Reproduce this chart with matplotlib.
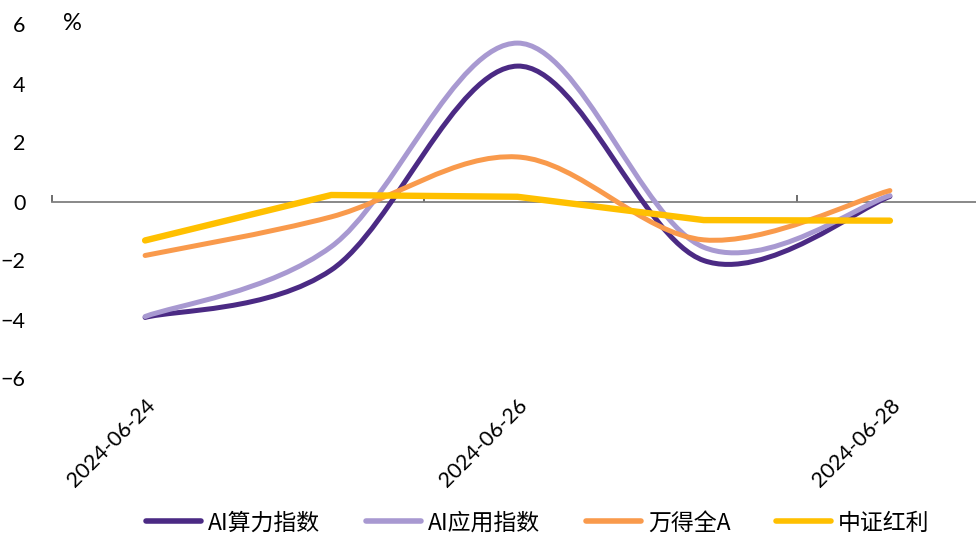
import numpy as np
import matplotlib
matplotlib.use("Agg")
import matplotlib.pyplot as plt
from matplotlib.path import Path
from matplotlib.patches import PathPatch
from matplotlib.lines import Line2D

plt.rcParams['font.family'] = ['Lato', 'Noto Sans CJK SC', 'DejaVu Sans']

# ---- data ----
days = [24, 25, 26, 27, 28]
date_labels = ['2024-06-24', '2024-06-26', '2024-06-28']
date_ticks = [24, 26, 28]
ai_compute = [-3.93, -2.32, 4.59, -2.0, 0.17]      # AI算力指数
ai_app = [-3.90, -1.53, 5.37, -1.55, 0.20]         # AI应用指数
wind_all_a = [-1.83, -0.52, 1.51, -1.30, 0.37]     # 万得全A
csi_dividend = [-1.32, 0.22, 0.16, -0.63, -0.65]   # 中证红利

names = ['AI算力指数', 'AI应用指数', '万得全A', '中证红利']
colors = ['#4B2A84', '#A899D1', '#F99A4C', '#FFC000']
widths = [3.6, 3.6, 3.6, 4.6]
smooth = [True, True, True, False]


def smooth_path(x, y):
    """Catmull-Rom curve through the points, expressed as cubic Beziers."""
    pts = np.column_stack([x, y]).astype(float)
    n = len(pts)
    verts = [pts[0]]
    codes = [Path.MOVETO]
    for i in range(n - 1):
        p0 = pts[i - 1] if i > 0 else pts[i]
        p1 = pts[i]
        p2 = pts[i + 1]
        p3 = pts[i + 2] if i + 2 < n else pts[i + 1]
        c1 = p1 + (p2 - p0) / 6.0
        c2 = p2 - (p3 - p1) / 6.0
        verts += [c1, c2, p2]
        codes += [Path.CURVE4] * 3
    return Path(verts, codes)


fig = plt.figure(figsize=(9.76, 5.35), dpi=100)
W, H = 976, 535
left_px, right_px = 52, 983
top_px, bot_px = 24.5, 378.5
ax = fig.add_axes([left_px / W, 1 - bot_px / H,
                   (right_px - left_px) / W, (bot_px - top_px) / H])
ax.set_xlim(23.5, 28.5)
ax.set_ylim(-6, 6)

series = [ai_compute, ai_app, wind_all_a, csi_dividend]
for vals, c, lw, sm in zip(series, colors, widths, smooth):
    if sm:
        patch = PathPatch(smooth_path(days, vals), facecolor='none',
                          edgecolor=c, lw=lw, capstyle='round',
                          joinstyle='round', zorder=3)
        ax.add_patch(patch)
    else:
        ax.plot(days, vals, color=c, lw=lw, solid_capstyle='round',
                solid_joinstyle='miter', zorder=3)

# zero axis with category separators
for s in ['top', 'right', 'left']:
    ax.spines[s].set_visible(False)
ax.spines['bottom'].set_position(('data', 0))
ax.spines['bottom'].set_color('#7F7F7F')
ax.spines['bottom'].set_linewidth(1.3)
ax.spines['bottom'].set_zorder(2)
ax.set_xticks([])
ax.set_xticks([23.5, 25.5, 27.5], minor=True)
ax.tick_params(axis='x', which='minor', direction='in', length=5,
               width=1.2, color='#555555', labelbottom=False)

ax.set_yticks([-6, -4, -2, 0, 2, 4, 6])
ax.set_yticklabels(['\u22126', '\u22124', '\u22122', '0', '2', '4', '6'])
ax.tick_params(axis='y', length=0, pad=19, labelsize=15.5, labelcolor='black')

# date labels below the plot area
sec = ax.secondary_xaxis('bottom')
sec.set_xticks(date_ticks)
sec.set_xticklabels(date_labels, rotation=45, ha='right', va='top',
                    rotation_mode='anchor', fontsize=15.5)
sec.tick_params(length=0, pad=12)
for s in sec.spines.values():
    s.set_visible(False)

fig.text(72 / W, 1 - 23 / H, '%', fontsize=17, ha='center', va='center')

handles = [Line2D([], [], color=c, lw=4, solid_capstyle='round') for c in colors]
fig.legend(handles, names, loc='center', bbox_to_anchor=(538 / W, 1 - 523 / H),
           ncol=4, frameon=False, handlelength=2.4,
           handletextpad=0.3, columnspacing=2.0,
           prop={'family': ['Noto Sans CJK SC', 'DejaVu Sans'], 'size': 16.5})

fig.savefig('out.png', dpi=100)
